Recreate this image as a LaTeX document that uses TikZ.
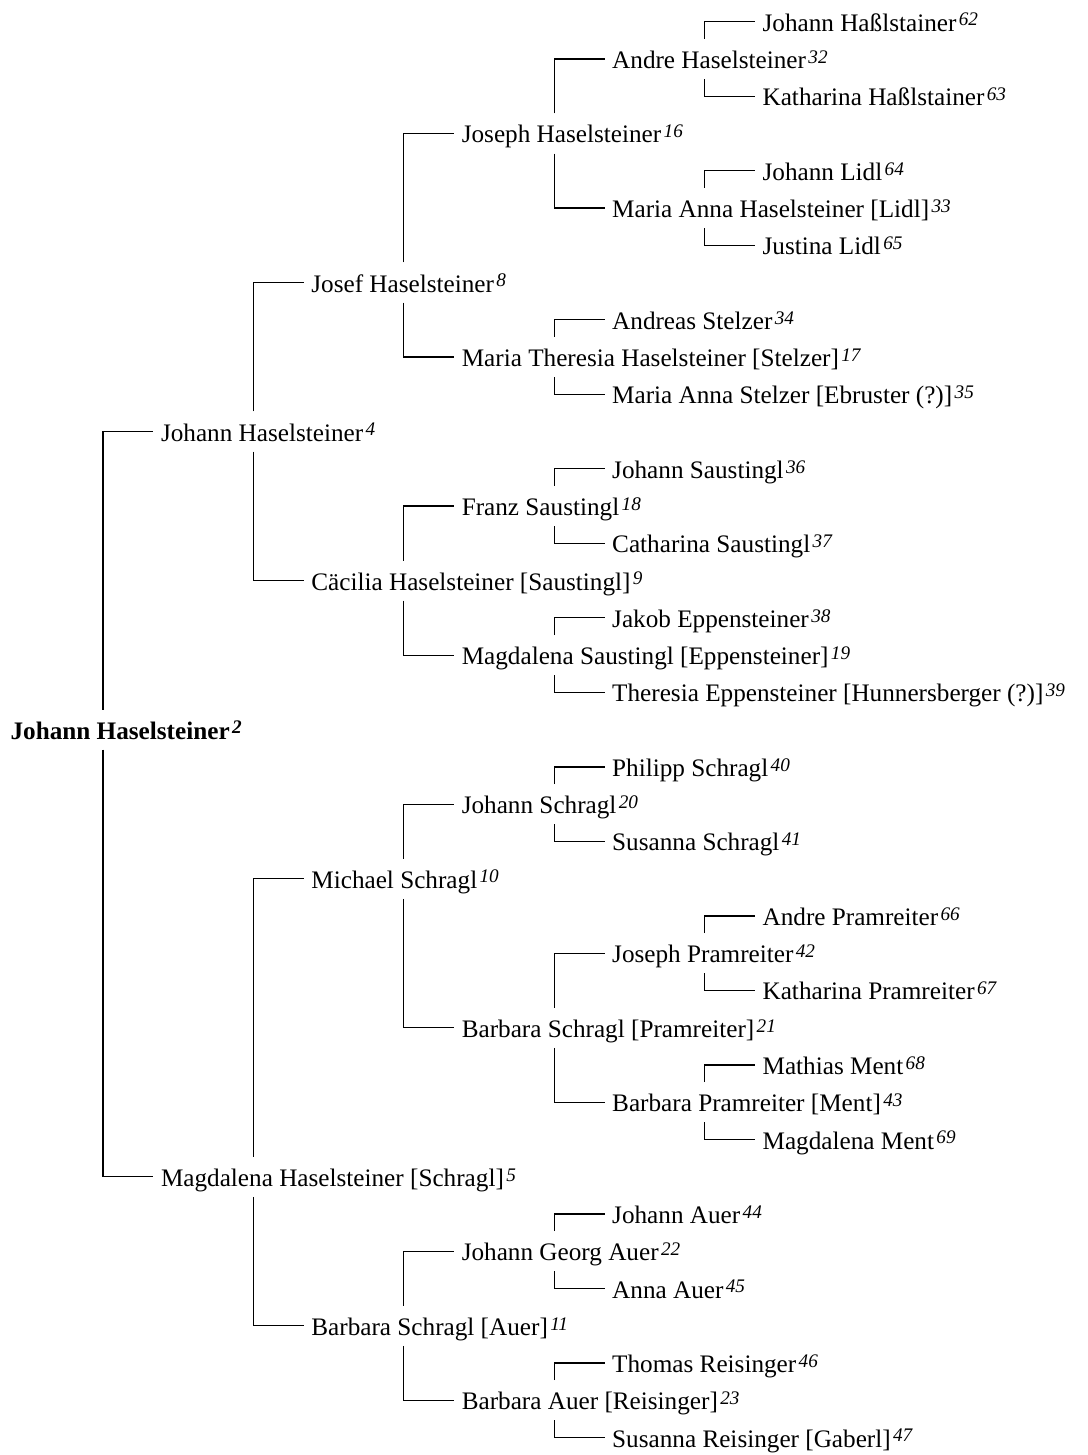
\documentclass[tikz,border=0pt]{standalone}
\usepackage{fontspec}
\setmainfont{Liberation Serif}
\usepackage{tikz}
\newcommand{\gen}[1]{\kern1.2pt\raisebox{2.6pt}{\fontsize{9.6}{10}\selectfont\itshape #1}}

\begin{document}
\begin{tikzpicture}[x=75.2pt, y=-18.63pt, line width=0.6pt]
\tikzstyle{every node}=[font=\fontsize{12.6}{14}\selectfont]
\tikzstyle{person}=[anchor=west, inner xsep=3.5pt, inner ysep=0pt,
                    text height=14.5pt, text depth=5pt]
\useasboundingbox (-1.5pt,10.85pt) rectangle (542pt,-716.65pt);

% proband
\node [person] (n2) at (0,19) {\textbf{Johann Haselsteiner\gen{2}}};

% parents
\node [person] (n4) at (1,11) {Johann Haselsteiner\gen{4}};
\node [person] (n5) at (1,31) {Magdalena Haselsteiner [Schragl]\gen{5}};

% grandparents
\node [person] (n8)  at (2,7)  {Josef Haselsteiner\gen{8}};
\node [person] (n9)  at (2,15) {Cäcilia Haselsteiner [Saustingl]\gen{9}};
\node [person] (n10) at (2,23) {Michael Schragl\gen{10}};
\node [person] (n11) at (2,35) {Barbara Schragl [Auer]\gen{11}};

% great-grandparents
\node [person] (n16) at (3,3)  {Joseph Haselsteiner\gen{16}};
\node [person] (n17) at (3,9)  {Maria Theresia Haselsteiner [Stelzer]\gen{17}};
\node [person] (n18) at (3,13) {Franz Saustingl\gen{18}};
\node [person] (n19) at (3,17) {Magdalena Saustingl [Eppensteiner]\gen{19}};
\node [person] (n20) at (3,21) {Johann Schragl\gen{20}};
\node [person] (n21) at (3,27) {Barbara Schragl [Pramreiter]\gen{21}};
\node [person] (n22) at (3,33) {Johann Georg Auer\gen{22}};
\node [person] (n23) at (3,37) {Barbara Auer [Reisinger]\gen{23}};

\node [person] (n32) at (4,1)  {Andre Haselsteiner\gen{32}};
\node [person] (n33) at (4,5)  {Maria Anna Haselsteiner [Lidl]\gen{33}};
\node [person] (n34) at (4,8)  {Andreas Stelzer\gen{34}};
\node [person] (n35) at (4,10) {Maria Anna Stelzer [Ebruster (?)]\gen{35}};
\node [person] (n36) at (4,12) {Johann Saustingl\gen{36}};
\node [person] (n37) at (4,14) {Catharina Saustingl\gen{37}};
\node [person] (n38) at (4,16) {Jakob Eppensteiner\gen{38}};
\node [person] (n39) at (4,18) {Theresia Eppensteiner [Hunnersberger (?)]\gen{39}};
\node [person] (n40) at (4,20) {Philipp Schragl\gen{40}};
\node [person] (n41) at (4,22) {Susanna Schragl\gen{41}};
\node [person] (n42) at (4,25) {Joseph Pramreiter\gen{42}};
\node [person] (n43) at (4,29) {Barbara Pramreiter [Ment]\gen{43}};
\node [person] (n44) at (4,32) {Johann Auer\gen{44}};
\node [person] (n45) at (4,34) {Anna Auer\gen{45}};
\node [person] (n46) at (4,36) {Thomas Reisinger\gen{46}};
\node [person] (n47) at (4,38) {Susanna Reisinger [Gaberl]\gen{47}};

\node [person] (n62) at (5,0)  {Johann Haßlstainer\gen{62}};
\node [person] (n63) at (5,2)  {Katharina Haßlstainer\gen{63}};
\node [person] (n64) at (5,4)  {Johann Lidl\gen{64}};
\node [person] (n65) at (5,6)  {Justina Lidl\gen{65}};
\node [person] (n66) at (5,24) {Andre Pramreiter\gen{66}};
\node [person] (n67) at (5,26) {Katharina Pramreiter\gen{67}};
\node [person] (n68) at (5,28) {Mathias Ment\gen{68}};
\node [person] (n69) at (5,30) {Magdalena Ment\gen{69}};

% father above, mother below
\draw (n2.north west) ++(50pt,0) |- (n4.west);
\draw (n2.south west) ++(50pt,0) |- (n5.west);

\draw (n4.north west) ++(50pt,0) |- (n8.west);
\draw (n4.south west) ++(50pt,0) |- (n9.west);
\draw (n5.north west) ++(50pt,0) |- (n10.west);
\draw (n5.south west) ++(50pt,0) |- (n11.west);

\draw (n8.north west)  ++(50pt,0) |- (n16.west);
\draw (n8.south west)  ++(50pt,0) |- (n17.west);
\draw (n9.north west)  ++(50pt,0) |- (n18.west);
\draw (n9.south west)  ++(50pt,0) |- (n19.west);
\draw (n10.north west) ++(50pt,0) |- (n20.west);
\draw (n10.south west) ++(50pt,0) |- (n21.west);
\draw (n11.north west) ++(50pt,0) |- (n22.west);
\draw (n11.south west) ++(50pt,0) |- (n23.west);

\draw (n16.north west) ++(50pt,0) |- (n32.west);
\draw (n16.south west) ++(50pt,0) |- (n33.west);
\draw (n17.north west) ++(50pt,0) |- (n34.west);
\draw (n17.south west) ++(50pt,0) |- (n35.west);
\draw (n18.north west) ++(50pt,0) |- (n36.west);
\draw (n18.south west) ++(50pt,0) |- (n37.west);
\draw (n19.north west) ++(50pt,0) |- (n38.west);
\draw (n19.south west) ++(50pt,0) |- (n39.west);
\draw (n20.north west) ++(50pt,0) |- (n40.west);
\draw (n20.south west) ++(50pt,0) |- (n41.west);
\draw (n21.north west) ++(50pt,0) |- (n42.west);
\draw (n21.south west) ++(50pt,0) |- (n43.west);
\draw (n22.north west) ++(50pt,0) |- (n44.west);
\draw (n22.south west) ++(50pt,0) |- (n45.west);
\draw (n23.north west) ++(50pt,0) |- (n46.west);
\draw (n23.south west) ++(50pt,0) |- (n47.west);

\draw (n32.north west) ++(50pt,0) |- (n62.west);
\draw (n32.south west) ++(50pt,0) |- (n63.west);
\draw (n33.north west) ++(50pt,0) |- (n64.west);
\draw (n33.south west) ++(50pt,0) |- (n65.west);
\draw (n42.north west) ++(50pt,0) |- (n66.west);
\draw (n42.south west) ++(50pt,0) |- (n67.west);
\draw (n43.north west) ++(50pt,0) |- (n68.west);
\draw (n43.south west) ++(50pt,0) |- (n69.west);
\end{tikzpicture}
\end{document}
